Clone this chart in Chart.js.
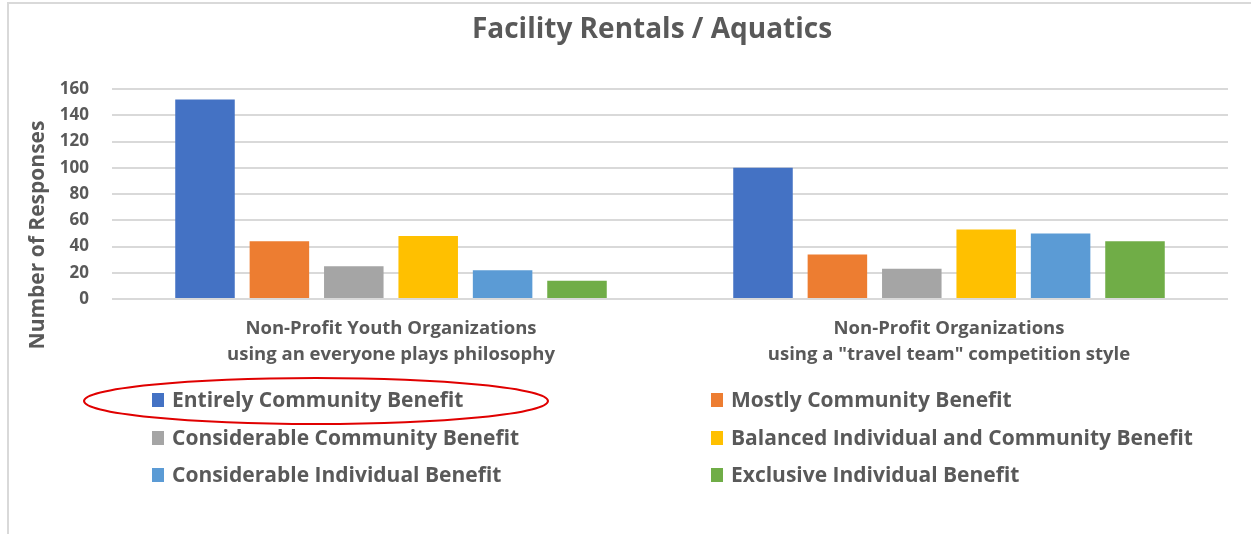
<!DOCTYPE html>
<html>
<head>
<meta charset="utf-8">
<script src="https://cdn.jsdelivr.net/npm/chart.js@4"></script>
<style>
  html, body { margin: 0; padding: 0; background: #fff; }
  #wrap { position: relative; width: 1251px; height: 534px; }
</style>
</head>
<body>
<div id="wrap"><canvas id="facilityChart" width="1251" height="534"></canvas></div>
<script>
const chartTitle = 'Facility Rentals / Aquatics';
const yAxisTitle = 'Number of Responses';
const categories = [
  ['Non-Profit Youth Organizations', 'using an everyone plays philosophy'],
  ['Non-Profit Organizations', 'using a "travel team" competition style']
];
const seriesNames = [
  'Entirely Community Benefit',
  'Mostly Community Benefit',
  'Considerable Community Benefit',
  'Balanced Individual and Community Benefit',
  'Considerable Individual Benefit',
  'Exclusive Individual Benefit'
];
const entirelyCommunity = [152, 100];
const mostlyCommunity = [44, 34];
const considerableCommunity = [25, 23];
const balanced = [48, 53];
const considerableIndividual = [22, 50];
const exclusiveIndividual = [14, 44];
const seriesColors = ['#4472C4', '#ED7D31', '#A5A5A5', '#FFC000', '#5B9BD5', '#70AD47'];

const FONT = '"Open Sans", Lato, sans-serif';
const TEXT = '#595959';

document.addEventListener('DOMContentLoaded', function () {
  const ctx = document.getElementById('facilityChart').getContext('2d');
  const values = [entirelyCommunity, mostlyCommunity, considerableCommunity,
    balanced, considerableIndividual, exclusiveIndividual];

  const data = {
    labels: categories,
    datasets: seriesNames.map(function (name, i) {
      return {
        label: name,
        data: values[i],
        backgroundColor: seriesColors[i],
        categoryPercentage: 0.8,
        barPercentage: 0.8
      };
    })
  };

  // frame, titles, two-column legend and the red ellipse
  const extras = {
    id: 'extras',
    beforeDraw(chart) {
      const c = chart.ctx;
      c.save();
      c.fillStyle = '#fff';
      c.fillRect(0, 0, chart.width, chart.height);
      c.strokeStyle = '#d9d9d9';
      c.lineWidth = 2;
      c.beginPath();
      c.moveTo(8, chart.height);
      c.lineTo(8, 3);
      c.lineTo(chart.width, 3);
      c.stroke();
      c.restore();
    },
    afterDraw(chart) {
      const c = chart.ctx;
      c.save();
      c.fillStyle = TEXT;
      c.textAlign = 'center';
      c.textBaseline = 'middle';
      c.font = 'bold 28px ' + FONT;
      c.fillText(chartTitle, 652, 30);

      c.save();
      c.translate(38, 235);
      c.rotate(-Math.PI / 2);
      c.font = 'bold 21px ' + FONT;
      c.fillText(yAxisTitle, 0, 0);
      c.restore();

      const colX = [152, 711];
      const rowY = [400, 438, 475];
      c.textAlign = 'left';
      c.font = 'bold 21px ' + FONT;
      chart.data.datasets.forEach(function (ds, i) {
        const x = colX[i % 2];
        const y = rowY[Math.floor(i / 2)];
        c.fillStyle = ds.backgroundColor;
        c.fillRect(x, y - 7, 12, 14);
        c.fillStyle = TEXT;
        c.fillText(ds.label, x + 20, y + 1);
      });
      c.strokeStyle = '#E00000';
      c.lineWidth = 2;
      c.beginPath();
      c.ellipse(316, 401, 232, 23, 0, 0, Math.PI * 2);
      c.stroke();
      c.restore();
    }
  };

  new Chart(ctx, {
    type: 'bar',
    data: data,
    plugins: [extras],
    options: {
      responsive: false,
      animation: false,
      layout: { padding: { left: 0, right: 23, top: 89, bottom: 165 } },
      plugins: {
        legend: { display: false },
        tooltip: { enabled: false },
        title: { display: false }
      },
      scales: {
        x: {
          grid: { display: false, drawTicks: false },
          border: { display: false },
          ticks: {
            color: TEXT,
            padding: 17,
            maxRotation: 0,
            font: { family: FONT, size: 18.5, weight: 'bold', lineHeight: 1.4 }
          },
          afterFit: function (s) { s.height = 70; }
        },
        y: {
          min: 0,
          max: 160,
          ticks: {
            stepSize: 20,
            color: TEXT,
            padding: 23,
            font: { family: FONT, size: 17, weight: 'bold' }
          },
          grid: { color: '#d9d9d9', lineWidth: 2, drawTicks: false },
          border: { display: false },
          afterFit: function (s) { s.width = 112; }
        }
      }
    }
  });
});
</script>
</body>
</html>
